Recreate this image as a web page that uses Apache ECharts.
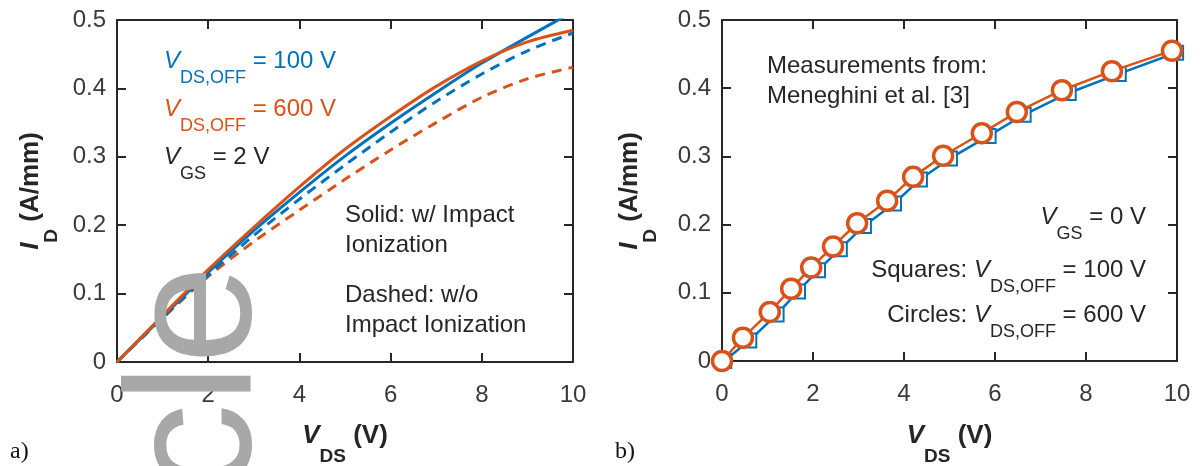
<!DOCTYPE html>
<html>
<head>
<meta charset="utf-8">
<script src="https://cdn.jsdelivr.net/npm/echarts@6/dist/echarts.min.js"></script>
<style>
html, body { margin: 0; padding: 0; background: #fff; }
#main { width: 1203px; height: 466px; }
</style>
</head>
<body>
<div id="main"></div>
<script>
// a) simulated output curves, V_GS = 2 V
var vds = [0, 1, 2, 3, 4, 5, 6, 7, 8, 9, 10];
var solid100 = [0, 0.066, 0.131, 0.192, 0.248, 0.301, 0.349, 0.394, 0.437, 0.475, 0.512];
var solid600 = [0, 0.068, 0.135, 0.197, 0.256, 0.311, 0.359, 0.403, 0.440, 0.468, 0.485];
var dashed100 = [0, 0.065, 0.127, 0.185, 0.238, 0.288, 0.336, 0.381, 0.421, 0.455, 0.481];
var dashed600 = [0, 0.064, 0.125, 0.176, 0.222, 0.267, 0.310, 0.350, 0.387, 0.414, 0.431];

// b) measurements (Meneghini et al.), V_GS = 0 V
var sqV = [0.05, 0.60, 1.20, 1.67, 2.11, 2.59, 3.12, 3.78, 4.35, 5.01, 5.86, 6.63, 7.62, 8.72, 9.98];
var sqI = [0, 0.030, 0.068, 0.102, 0.133, 0.164, 0.198, 0.231, 0.266, 0.297, 0.330, 0.361, 0.393, 0.421, 0.452];
var ciV = [0, 0.46, 1.05, 1.52, 1.96, 2.44, 2.97, 3.63, 4.20, 4.86, 5.71, 6.48, 7.47, 8.57, 9.89];
var ciI = [0, 0.034, 0.072, 0.106, 0.137, 0.168, 0.202, 0.235, 0.270, 0.301, 0.334, 0.365, 0.397, 0.425, 0.455];

var xTicks = [0, 2, 4, 6, 8, 10];
var yTicks = [0, 0.1, 0.2, 0.3, 0.4, 0.5];

var BLUE = '#0072BD';
var ORANGE = '#D95319';
var INK = '#262626';
var FONT = 'Liberation Sans, Arial, sans-serif';

function pares(xs, ys) {
	return xs.map(function(x, i) { return [x, ys[i]]; });
}

function eixoX(grid, pos, labels) {
	return {
		type: 'value', gridIndex: grid, position: pos,
		min: xTicks[0], max: xTicks[xTicks.length - 1], interval: xTicks[1] - xTicks[0],
		axisLine: { show: true, onZero: false, lineStyle: { color: INK, width: 2 } },
		axisTick: { show: true, inside: true, length: 9, lineStyle: { color: INK, width: 2 } },
		axisLabel: { show: labels, margin: 21, fontSize: 24, color: '#3a3a3a', fontFamily: FONT },
		splitLine: { show: false }
	};
}

function eixoY(grid, pos, labels) {
	return {
		type: 'value', gridIndex: grid, position: pos,
		min: yTicks[0], max: yTicks[yTicks.length - 1], interval: 0.1,
		axisLine: { show: true, onZero: false, lineStyle: { color: INK, width: 2 } },
		axisTick: { show: true, inside: true, length: 9, lineStyle: { color: INK, width: 2 } },
		axisLabel: {
			show: labels, margin: 11, fontSize: 24, color: '#3a3a3a', fontFamily: FONT,
			formatter: function(v) { return v === 0 ? '0' : v.toFixed(1); }
		},
		splitLine: { show: false }
	};
}

function curva(ys, color, dashed) {
	return {
		type: 'line', xAxisIndex: 0, yAxisIndex: 0,
		data: pares(vds, ys), smooth: 0.3, symbol: 'none',
		lineStyle: { color: color, width: 3, type: dashed ? [10, 7] : 'solid' },
		z: dashed ? 2 : 3
	};
}

// rich text styles: italic symbol, subscript, normal text
function ricos(color, bold, size, subSize, pad) {
	var w = bold ? 'bold' : 'normal';
	return {
		i: { fontSize: size, fontStyle: 'italic', fontWeight: w, fontFamily: FONT, fill: color, lineHeight: size + 2, verticalAlign: 'top' },
		s: { fontSize: subSize, fontWeight: w, fontFamily: FONT, fill: color, lineHeight: subSize + 2, padding: [pad, 0, 0, 0], verticalAlign: 'top' },
		n: { fontSize: size, fontWeight: w, fontFamily: FONT, fill: color, lineHeight: size + 2, verticalAlign: 'top' }
	};
}

function nota(x, capY, txt, color, align) {
	return {
		type: 'text', x: x, y: capY - 13, z: 10,
		style: { text: txt, align: align || 'left', verticalAlign: 'top', rich: ricos(color, false, 24, 18, 20) }
	};
}

function texto(x, capY, txt, align) {
	return {
		type: 'text', x: x, y: capY - 15, z: 10,
		style: { text: txt, align: align || 'left', verticalAlign: 'top', font: '24px ' + FONT, fill: INK, lineHeight: 30 }
	};
}

function tituloX(cx) {
	return {
		type: 'text', x: cx, y: 437 - 14, z: 10,
		style: { text: '{i|V}{s|DS}{n| (V)}', align: 'center', verticalAlign: 'top', rich: ricos(INK, true, 26, 19, 24) }
	};
}

function tituloY(cx) {
	return {
		type: 'text', x: cx - 14, y: 191, rotation: Math.PI / 2, z: 10,
		style: { text: '{i|I}{s|D}{n| (A/mm)}', align: 'center', verticalAlign: 'top', rich: ricos(INK, true, 26, 19, 24) }
	};
}

var myChart = echarts.init(document.getElementById('main'));

option = {
	animation: false,
	backgroundColor: '#fff',
	grid: [
		{ left: 117, top: 20, width: 456, height: 342 },
		{ left: 722, top: 20, width: 455, height: 341 }
	],
	xAxis: [eixoX(0, 'bottom', true), eixoX(0, 'top', false), eixoX(1, 'bottom', true), eixoX(1, 'top', false)],
	yAxis: [eixoY(0, 'left', true), eixoY(0, 'right', false), eixoY(1, 'left', true), eixoY(1, 'right', false)],
	series: [
		curva(dashed600, ORANGE, true),
		curva(dashed100, BLUE, true),
		curva(solid100, BLUE, false),
		curva(solid600, ORANGE, false),
		{
			type: 'line', xAxisIndex: 2, yAxisIndex: 2,
			data: pares(sqV, sqI), symbol: 'rect', symbolSize: 14, showAllSymbol: true,
			lineStyle: { color: BLUE, width: 2.5 },
			itemStyle: { color: '#fff', borderColor: BLUE, borderWidth: 2 },
			z: 2
		},
		{
			type: 'line', xAxisIndex: 2, yAxisIndex: 2,
			data: pares(ciV, ciI), symbol: 'circle', symbolSize: 19, showAllSymbol: true,
			lineStyle: { color: ORANGE, width: 2.5 },
			itemStyle: { color: '#fff', borderColor: ORANGE, borderWidth: 3.5 },
			z: 3
		}
	],
	graphic: [
		nota(164, 62, '{i|V}{s|DS,OFF}{n| = 100 V}', BLUE),
		nota(164, 110, '{i|V}{s|DS,OFF}{n| = 600 V}', ORANGE),
		nota(164, 158, '{i|V}{s|GS}{n| = 2 V}', INK),
		texto(345, 215, 'Solid: w/ Impact\nIonization'),
		texto(345, 295, 'Dashed: w/o\nImpact Ionization'),
		texto(767, 66, 'Measurements from:\nMeneghini et al. [3]'),
		nota(1146, 218, '{i|V}{s|GS}{n| = 0 V}', INK, 'right'),
		nota(1146, 271, '{n|Squares: }{i|V}{s|DS,OFF}{n| = 100 V}', INK, 'right'),
		nota(1146, 316, '{n|Circles: }{i|V}{s|DS,OFF}{n| = 600 V}', INK, 'right'),
		tituloX(345),
		tituloX(949.5),
		tituloY(32),
		tituloY(631),
		{ type: 'text', x: 10, y: 452, z: 10, style: { text: 'a)', font: '24px Liberation Serif, serif', fill: '#111', verticalAlign: 'middle' } },
		{ type: 'text', x: 615, y: 452, z: 10, style: { text: 'b)', font: '24px Liberation Serif, serif', fill: '#111', verticalAlign: 'middle' } },
		// watermark fragment over panel a
		{ type: 'text', x: 201, y: 265, rotation: Math.PI / 2, z: 100,
			style: { text: 'cle', font: '178px ' + FONT, fill: '#a8a8a8', align: 'right', verticalAlign: 'middle' } }
	]
};

myChart.setOption(option);
</script>
</body>
</html>
